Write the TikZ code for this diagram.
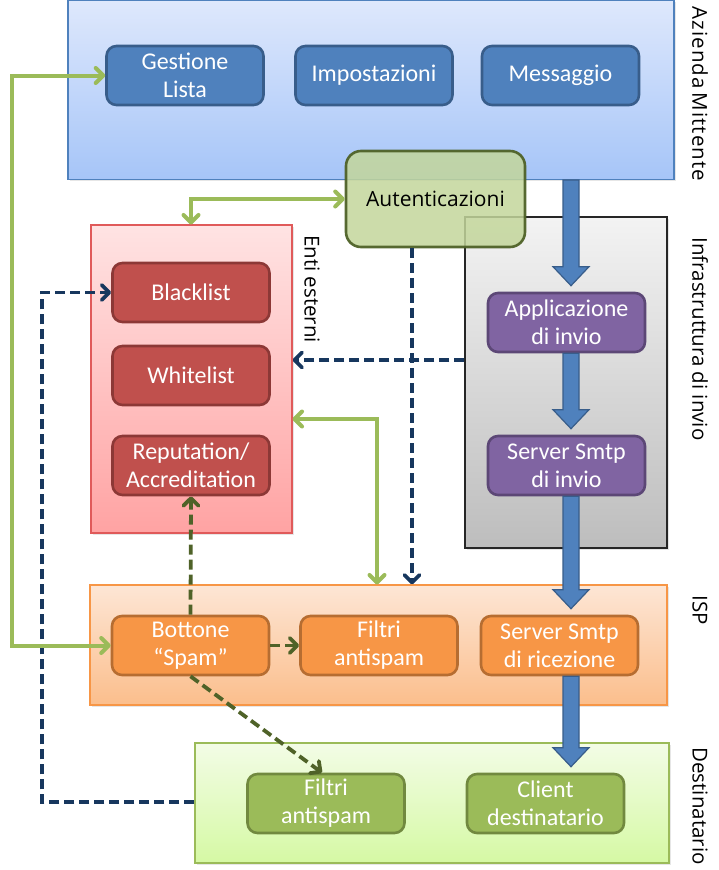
\documentclass[tikz,border=0pt]{standalone}
\usepackage{fontspec}
\setmainfont{Carlito}
\newfontfamily\labfont{Open Sans}
\usetikzlibrary{arrows.meta,calc,shadows}
\definecolor{nBlueF}{HTML}{4F81BD}
\definecolor{nBlueD}{HTML}{385D8A}
\definecolor{nRedF}{HTML}{C0504D}
\definecolor{nRedD}{HTML}{8C3836}
\definecolor{nPurF}{HTML}{8064A2}
\definecolor{nPurD}{HTML}{5C4776}
\definecolor{nOrF}{HTML}{F79646}
\definecolor{nOrD}{HTML}{B66D31}
\definecolor{nGrF}{HTML}{9BBB59}
\definecolor{nGrD}{HTML}{71893F}
\definecolor{autF}{HTML}{C3D69B}
\definecolor{autD}{HTML}{4F6228}
\definecolor{gLine}{HTML}{9BBB59}
\definecolor{dgLine}{HTML}{4F6228}
\definecolor{navyL}{HTML}{17375E}
\definecolor{azT}{HTML}{DEE8FC}\definecolor{azB}{HTML}{A6C5F8}\definecolor{azD}{HTML}{4F81BD}
\definecolor{entiT}{HTML}{FFE3E3}\definecolor{entiB}{HTML}{FFA3A3}\definecolor{entiD}{HTML}{E05A5A}
\definecolor{infT}{HTML}{F3F3F3}\definecolor{infB}{HTML}{BDBDBD}\definecolor{infD}{HTML}{262626}
\definecolor{ispT}{HTML}{FDE6D5}\definecolor{ispB}{HTML}{FBBE8C}\definecolor{ispD}{HTML}{F79646}
\definecolor{dstT}{HTML}{F3FCE6}\definecolor{dstB}{HTML}{D5F9A4}\definecolor{dstD}{HTML}{9BBB59}
\newcommand\fatarrow[2]{%
  \path[fat] let \p1=(#1), \p2=(#2) in
  ({\x1-8pt},\y1) -- ({\x1-8pt},{\y2+19pt}) -- ({\x1-18pt},{\y2+19pt}) -- (\x1,\y2)
  -- ({\x1+18pt},{\y2+19pt}) -- ({\x1+8pt},{\y2+19pt}) -- ({\x1+8pt},\y1) -- cycle;}
\tikzset{
  chev/.tip={Straight Barb[round,length=7.5pt,width=15pt]},
  container/.style={draw=#1D, line width=1.1pt, top color=#1T, bottom color=#1B,
    inner sep=0pt, drop shadow={shadow xshift=1.5pt, shadow yshift=-1.5pt, opacity=0.2}},
  box/.style={rounded corners=10pt, line width=2.6pt, text=white, align=center,
    minimum width=157pt, minimum height=59pt, inner sep=0pt,
    font=\fontsize{24}{28}\selectfont},
  bluebox/.style={box, fill=nBlueF, draw=nBlueD},
  redbox/.style={box, fill=nRedF, draw=nRedD},
  purbox/.style={box, fill=nPurF, draw=nPurD},
  orbox/.style={box, fill=nOrF, draw=nOrD},
  grbox/.style={box, fill=nGrF, draw=nGrD},
  lab/.style={font=\labfont\fontsize{20.5}{24}\selectfont, text=black, inner sep=0pt, rotate=-90},
  gline/.style={draw=gLine, line width=4pt},
  dgline/.style={draw=dgLine, line width=3.8pt, dash pattern=on 10pt off 5pt},
  nline/.style={draw=navyL, line width=3.8pt, dash pattern=on 10pt off 5pt},
  fat/.style={fill=nBlueF, draw=nBlueD, line width=1.2pt},
}
\begin{document}
\begin{tikzpicture}[x=1pt,y=-1pt]
\useasboundingbox (0,0) rectangle (719,870);
% containers
\node[container=az, minimum width=606pt, minimum height=179pt] (az) at (371,90) {};
\node[container=enti, minimum width=201pt, minimum height=308pt] (enti) at (191.5,379) {};
\node[container=inf, minimum width=202pt, minimum height=331pt] (infra) at (566,382.5) {};
\node[container=isp, minimum width=577pt, minimum height=120pt] (isp) at (378.5,645) {};
\node[container=dst, minimum width=474pt, minimum height=120pt] (dest) at (432,803) {};
% side labels
\node[lab] (laz) at (700,94) {\addfontfeature{LetterSpace=5}Azienda\hspace{4pt}Mittente};
\node[lab] (linf) at (700,339) {Infrastruttura di invio};
\node[lab] (lisp) at (700,610) {ISP};
\node[lab] (ldst) at (700,806) {Destinatario};
\node[lab] (lenti) at (312,289) {Enti esterni};
% top nodes
\node[bluebox] (gest) at (185,75.5) {Gestione\\Lista};
\node[bluebox] (imp) at (374,75.5) {Impostazioni};
\node[bluebox] (mess) at (560.5,75.5) {Messaggio};
% enti
\node[redbox] (black) at (191,292.5) {Blacklist};
\node[redbox] (white) at (191,375.5) {Whitelist};
\node[redbox] (rep) at (191,465.5) {Reputation/\\Accreditation};
% infra
\node[purbox] (app) at (566.5,322.5) {Applicazione\\di invio};
\node[purbox] (smtpi) at (566.5,465.5) {Server Smtp\\di invio};
% isp
\node[orbox] (bott) at (190.5,645.5) {Bottone\\“Spam”};
\node[orbox] (filt) at (379,645.5) {Filtri\\antispam};
\node[orbox] (ricez) at (559.5,645.5) {Server Smtp\\di ricezione};
% dest
\node[grbox] (filtd) at (326,803.5) {Filtri\\antispam};
\node[grbox] (client) at (545.5,803.5) {Client\\destinatario};
% big arrows
\coordinate (col) at (571,0);
\fatarrow{az.south -| col}{$(app.north -| col)+(0,-6)$}
\fatarrow{app.south -| col}{$(smtpi.north -| col)+(0,-6)$}
\fatarrow{smtpi.south -| col}{$(ricez.north -| col)+(0,-6)$}
\fatarrow{ricez.south -| col}{$(client.north -| col)+(0,-6)$}
% autenticazioni
\node[draw=autD, fill=autF, fill opacity=0.85, draw opacity=0.95, text opacity=1,
  line width=2.6pt, rounded corners=15pt, minimum width=179pt, minimum height=96pt,
  inner sep=0pt, font=\labfont\fontsize{21}{25}\selectfont] (aut) at (435.5,199) {Autenticazioni};
% connectors
\coordinate (gl) at (12,0);
\coordinate (g2) at (377,419);
\coordinate (n1) at (42,802);
\coordinate (n2) at (0,360);
\coordinate (n3) at (412,0);
\draw[nline, -chev] (dest.west |- n1) -- (n1) |- (black.west);
\draw[nline, -chev] (infra.west |- n2) -- (enti.east |- n2);
\draw[nline, -chev] (aut.south -| n3) -- (isp.north -| n3);
\draw[gline, chev-chev] (gest.west) -- (gest.west -| gl) |- (bott.west);
\draw[gline, chev-chev] (enti.east |- g2) -| (isp.north -| g2);
\draw[gline, chev-chev] (enti.north -| black) |- (aut.west);
\draw[dgline, -chev] (bott.north) -- (rep.south);
\draw[dgline, -chev] (bott.east) -- (filt.west);
\draw[dgline, -chev] (bott.south) -- ($(filtd.north)+(-4,0)$);
\end{tikzpicture}
\end{document}
